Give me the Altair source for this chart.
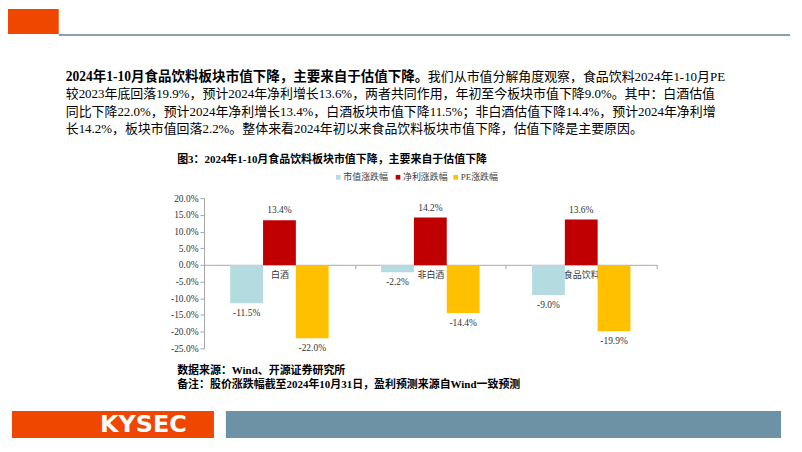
import altair as alt
import pandas as pd

# ---------------- data ----------------
categories = ["白酒", "非白酒", "食品饮料"]
series = ["市值涨跌幅", "净利涨跌幅", "PE涨跌幅"]
mkt_cap = [-11.5, -2.2, -9.0]
net_profit = [13.4, 14.2, 13.6]
pe_change = [-22.0, -14.4, -19.9]
y_ticks = [-25, -20, -15, -10, -5, 0, 5, 10, 15, 20]

para_bold = "2024年1-10月食品饮料板块市值下降，主要来自于估值下降。"
para_lines = [
    "我们从市值分解角度观察，食品饮料2024年1-10月PE",
    "较2023年底回落19.9%，预计2024年净利增长13.6%，两者共同作用，年初至今板块市值下降9.0%。其中：白酒估值",
    "同比下降22.0%，预计2024年净利增长13.4%，白酒板块市值下降11.5%；非白酒估值下降14.4%，预计2024年净利增",
    "长14.2%，板块市值回落2.2%。整体来看2024年初以来食品饮料板块市值下降，估值下降是主要原因。",
]
chart_title = "图3：2024年1-10月食品饮料板块市值下降，主要来自于估值下降"
source_lines = [
    "数据来源：Wind、开源证券研究所",
    "备注：股价涨跌幅截至2024年10月31日，盈利预测来源自Wind一致预测",
]
logo_text = "KYSEC"

colors = ["#B4DCE0", "#C00000", "#FFC000"]

rows = []
for i, c in enumerate(categories):
    for s, vals in zip(series, [mkt_cap, net_profit, pe_change]):
        rows.append({"category": c, "series": s, "value": vals[i]})
df = pd.DataFrame(rows)

FONT = "Liberation Serif, Noto Sans CJK SC, serif"
PCT = "(datum.value < 0 ? '-' : '') + format(abs(datum.value), '.1f') + '%'"

# plot origin in page coordinates
OX, OY = 205, 198
W, H = 455, 151


def px(x):
    return x - OX


def py(y):
    return y - OY


one = alt.Data(values=[{"k": 1}])

x_enc = alt.X(
    "category:N",
    sort=categories,
    scale=alt.Scale(paddingInner=0, paddingOuter=0),
    axis=alt.Axis(
        title=None, orient="bottom", offset=-round(H * 25 / 45), tickBand="extent",
        domainColor="#A6A6A6", tickColor="#A6A6A6", tickSize=4, labelPadding=2,
        labelFont=FONT, labelFontSize=9, labelColor="#333333", labelAngle=0,
    ),
)
xo_enc = alt.XOffset("series:N", sort=series,
                     scale=alt.Scale(paddingInner=0, paddingOuter=0.8))
y_enc = alt.Y(
    "value:Q",
    scale=alt.Scale(domain=[-25, 20], nice=False),
    axis=alt.Axis(
        title=None, values=y_ticks, labelExpr=PCT,
        grid=False, domainColor="#A6A6A6", tickColor="#A6A6A6", tickSize=4,
        labelPadding=2, labelFont=FONT, labelFontSize=9.5, labelColor="#333333",
    ),
)

base = alt.Chart(df)
bars = base.mark_bar().encode(
    x=x_enc, xOffset=xo_enc, y=y_enc,
    color=alt.Color("series:N", scale=alt.Scale(domain=series, range=colors), legend=None),
)
lab = base.transform_calculate(lbl=PCT)
pos_labels = lab.transform_filter("datum.value >= 0").mark_text(
    baseline="bottom", dy=-5, font=FONT, fontSize=9.5, color="#333333"
).encode(x=x_enc, xOffset=xo_enc, y=y_enc, text="lbl:N")
neg_labels = lab.transform_filter("datum.value < 0").mark_text(
    baseline="top", dy=5, font=FONT, fontSize=9.5, color="#333333"
).encode(x=x_enc, xOffset=xo_enc, y=y_enc, text="lbl:N")

layers = [bars, pos_labels, neg_labels]

# legend (manual)
leg_sq_x = [340, 400, 458]
for sx, name, col in zip(leg_sq_x, series, colors):
    layers.append(alt.Chart(one).mark_square(size=22, color=col, opacity=1).encode(
        x=alt.value(px(sx)), y=alt.value(py(177))))
    layers.append(alt.Chart(one).mark_text(
        text=name, align="left", baseline="middle", font=FONT, fontSize=9, color="#404040"
    ).encode(x=alt.value(px(sx + 5)), y=alt.value(py(177))))

# chart title
layers.append(alt.Chart(one).mark_text(
    text=chart_title, align="left", baseline="middle", font=FONT, fontSize=11,
    fontWeight="bold", color="#000000"
).encode(x=alt.value(px(178)), y=alt.value(py(160))))

# paragraph
para_y = [76, 93.5, 111, 128.5]
layers.append(alt.Chart(one).mark_text(
    text=para_bold, align="left", baseline="middle", font=FONT, fontSize=13.6,
    fontWeight="bold", color="#000000"
).encode(x=alt.value(px(66)), y=alt.value(py(para_y[0]))))
for i, line in enumerate(para_lines):
    x0 = 430 if i == 0 else 66
    layers.append(alt.Chart(one).mark_text(
        text=line, align="left", baseline="middle", font=FONT, fontSize=13, color="#000000"
    ).encode(x=alt.value(px(x0)), y=alt.value(py(para_y[i]))))

# source notes
for i, line in enumerate(source_lines):
    layers.append(alt.Chart(one).mark_text(
        text=line, align="left", baseline="middle", font=FONT, fontSize=11,
        fontWeight="bold", color="#000000"
    ).encode(x=alt.value(px(178)), y=alt.value(py(372 + 14 * i))))

# header decorations
layers.append(alt.Chart(one).mark_rect(color="#EF4600").encode(
    x=alt.value(px(8)), x2=alt.value(px(59)), y=alt.value(py(8)), y2=alt.value(py(33))))
layers.append(alt.Chart(one).mark_rule(color="#8C9FAE", strokeWidth=2).encode(
    x=alt.value(px(59)), x2=alt.value(px(794)), y=alt.value(py(34))))

# footer decorations
layers.append(alt.Chart(one).mark_rect(color="#EF4600").encode(
    x=alt.value(px(12)), x2=alt.value(px(215)), y=alt.value(py(412)), y2=alt.value(py(439))))
layers.append(alt.Chart(one).mark_rect(color="#6D91A5").encode(
    x=alt.value(px(227)), x2=alt.value(px(785)), y=alt.value(py(412)), y2=alt.value(py(439))))
layers.append(alt.Chart(one).mark_text(
    text=logo_text, align="center", baseline="middle", font="DejaVu Sans", fontSize=24,
    fontWeight="bold", color="#FFFFFF"
).encode(x=alt.value(px(144)), y=alt.value(py(426))))

chart = alt.layer(*layers).properties(
    width=W, height=H,
    autosize=alt.AutoSizeParams(type="none"),
    padding={"left": OX - 8, "top": OY - 8, "right": 790 - (OX - 8) - W, "bottom": 440 - (OY - 8) - H},
).configure_view(stroke=None)

chart.save("out.html", embed_options={"renderer": "svg", "actions": False})
